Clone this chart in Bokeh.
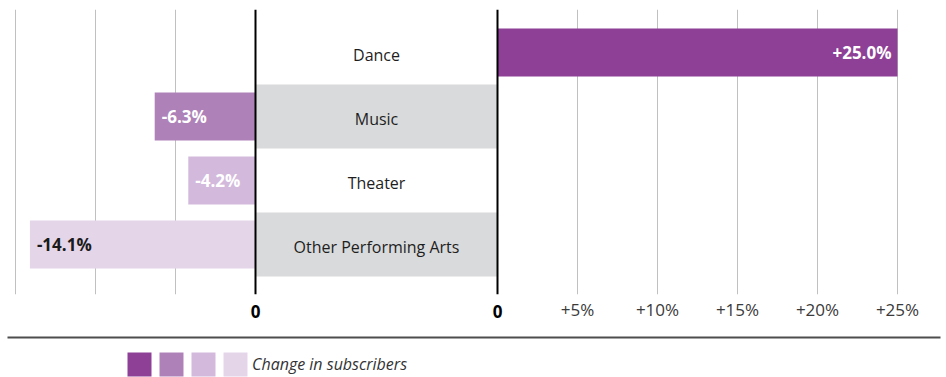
from bokeh.plotting import figure
from bokeh.layouts import column
from bokeh.models import (Range1d, LinearAxis, FixedTicker, Grid, Span,
                          ColumnDataSource, Legend, LegendItem)
from bokeh.core.properties import value
from bokeh.embed import file_html
from bokeh.resources import INLINE

# ---------------- data ----------------
categories = ["Dance", "Music", "Theater", "Other Performing Arts"]
changes = [25.0, -6.3, -4.2, -14.1]
left_ticks = [-15, -10, -5]
right_ticks = [5, 10, 15, 20, 25]
right_tick_labels = ["+5%", "+10%", "+15%", "+20%", "+25%"]
zero_ticks = [0, 1]           # the two zero lines bounding the label column
zero_labels = ["0", "0"]
legend_label = "Change in subscribers"

# ---------------- style ----------------
bar_colors = ["#8e3f96", "#ae82b8", "#d3b9dc", "#e4d5e9"]
value_label_colors = ["#ffffff", "#ffffff", "#ffffff", "#1a1a1a"]
FONT = "Open Sans"
W = 946
H_TOP, H_BOT = 330, 47
BORDER_L, BORDER_R = 7, 6
FRAME_W = W - BORDER_L - BORDER_R
PX_PER_PCT = 16
LEFT_ZERO_PX = 248     # distance of left zero line from frame left
RIGHT_ZERO_PX = 490    # distance of right zero line from frame left
FRAME_TOP = 9
FRAME_H = 285
ROW_PX = 64
FIRST_ROW_CENTER_PX = 43
LABEL_STANDOFF = 10
LABEL_H = 23           # measured height of a 17px tick label
AXIS_A_SIZE = LABEL_STANDOFF + LABEL_H
LEGEND_POS = (117, -2)

n = len(categories)
rows = [n - 1 - i for i in range(n)]
y_end = rows[0] + FIRST_ROW_CENTER_PX / ROW_PX
y_start = y_end - FRAME_H / ROW_PX

right_range = Range1d(-RIGHT_ZERO_PX / PX_PER_PCT, (FRAME_W - RIGHT_ZERO_PX) / PX_PER_PCT)
left_range = Range1d(-LEFT_ZERO_PX / PX_PER_PCT, (FRAME_W - LEFT_ZERO_PX) / PX_PER_PCT)
mid_w = RIGHT_ZERO_PX - LEFT_ZERO_PX
mid_range = Range1d(-LEFT_ZERO_PX / mid_w, (FRAME_W - LEFT_ZERO_PX) / mid_w)

p = figure(width=W, height=H_TOP, x_range=right_range, y_range=Range1d(y_start, y_end),
           output_backend="svg", toolbar_location=None, tools="",
           x_axis_type=None, y_axis_type=None,
           min_border_left=BORDER_L, min_border_right=BORDER_R, min_border_top=FRAME_TOP,
           min_border_bottom=H_TOP - FRAME_TOP - FRAME_H)
p.extra_x_ranges = {"left": left_range, "mid": mid_range}
p.outline_line_color = None

# grid lines
p.add_layout(Grid(dimension=0, ticker=FixedTicker(ticks=left_ticks), x_range_name="left",
                  grid_line_color="#c0c0c0", grid_line_width=1))
p.add_layout(Grid(dimension=0, ticker=FixedTicker(ticks=right_ticks),
                  grid_line_color="#c0c0c0", grid_line_width=1))

# middle label column with alternating bands
band_rows = [rows[i] for i in range(n) if i % 2 == 1]
p.hbar(y=band_rows, left=0, right=1, height=1, x_range_name="mid",
       fill_color="#d9dadb", line_color=None)
p.text(x=0.5, y=rows, text=categories, x_range_name="mid", y_offset=2,
       text_align="center", text_baseline="middle", text_font=value(FONT),
       text_font_size="16px", text_color="#1e1e1e")

# bars
pos = [i for i in range(n) if changes[i] >= 0]
neg = [i for i in range(n) if changes[i] < 0]


def make_source(idx):
    return ColumnDataSource(dict(
        y=[rows[i] for i in idx],
        v=[changes[i] for i in idx],
        color=[bar_colors[i] for i in idx],
        label=[f"{changes[i]:+.1f}%" for i in idx],
        lc=[value_label_colors[i] for i in idx],
    ))


s_pos = make_source(pos)
s_neg = make_source(neg)
p.hbar(y="y", left=0, right="v", height=0.75, fill_color="color",
       line_color=None, source=s_pos)
p.hbar(y="y", left=0, right="v", height=0.75, fill_color="color",
       line_color=None, source=s_neg, x_range_name="left")
p.text(x="v", y="y", text="label", source=s_pos, text_align="right", x_offset=-6,
       text_baseline="middle", text_color="lc", text_font=value(FONT),
       text_font_style="bold", text_font_size="17px")
p.text(x="v", y="y", text="label", source=s_neg, x_range_name="left",
       text_align="left", x_offset=7, text_baseline="middle", text_color="lc",
       text_font=value(FONT), text_font_style="bold", text_font_size="17px")

# zero lines
p.add_layout(Span(location=0, dimension="height", x_range_name="left",
                  line_color="black", line_width=2))
p.add_layout(Span(location=0, dimension="height", line_color="black", line_width=2))


def style_axis(ax, standoff, bold=False, color="#3a3a3a"):
    ax.axis_line_color = None
    ax.major_tick_line_color = None
    ax.minor_tick_line_color = None
    ax.major_tick_out = 0
    ax.major_tick_in = 0
    ax.major_label_standoff = standoff
    ax.major_label_text_font = FONT
    ax.major_label_text_font_size = "17px"
    ax.major_label_text_color = color
    ax.major_label_text_font_style = "bold" if bold else "normal"


ax_zero = LinearAxis(x_range_name="mid", ticker=FixedTicker(ticks=zero_ticks),
                     major_label_overrides=dict(zip(zero_ticks, zero_labels)))
style_axis(ax_zero, LABEL_STANDOFF, bold=True, color="#000000")
p.add_layout(ax_zero, "below")

ax_pct = LinearAxis(ticker=FixedTicker(ticks=right_ticks),
                    major_label_overrides=dict(zip(right_ticks, right_tick_labels)))
style_axis(ax_pct, LABEL_STANDOFF - AXIS_A_SIZE)
p.add_layout(ax_pct, "below")

# ---------------- bottom strip: rule + legend ----------------
q = figure(width=W, height=H_BOT, x_range=Range1d(0, 1), y_range=Range1d(0, 1),
           output_backend="svg", toolbar_location=None, tools="",
           x_axis_type=None, y_axis_type=None,
           min_border_left=BORDER_L, min_border_right=BORDER_R,
           min_border_top=7, min_border_bottom=0)
q.outline_line_color = None

rule = LinearAxis(ticker=FixedTicker(ticks=[]))
rule.axis_line_color = "#4d4d4d"
rule.axis_line_width = 2
rule.major_tick_line_color = None
rule.minor_tick_line_color = None
rule.major_tick_out = 0
rule.major_tick_in = 0
rule.major_label_standoff = 0
rule.major_label_text_font_size = "0px"
q.add_layout(rule, "above")

# legend proxies: one row per colour, placed outside the visible strip
swatch_src = ColumnDataSource(dict(color=bar_colors, y=[-5] * n, l=[0] * n, r=[1] * n))
swatch = q.hbar(y="y", left="l", right="r", height=1, fill_color="color",
                line_color=None, source=swatch_src)
items = [LegendItem(label=value(legend_label if i == n - 1 else ""),
                    renderers=[swatch], index=i)
         for i in range(n)]
legend = Legend(items=items, orientation="horizontal", location=LEGEND_POS,
                glyph_width=30, glyph_height=30, label_standoff=2, spacing=0,
                label_width=0, label_height=30, padding=0, margin=0,
                border_line_color=None, background_fill_alpha=0,
                label_text_font=FONT, label_text_font_style="italic",
                label_text_font_size="16px", label_text_color="#333333")
q.add_layout(legend)

layout = column(p, q)
open("out.html", "w").write(file_html(layout, INLINE))
